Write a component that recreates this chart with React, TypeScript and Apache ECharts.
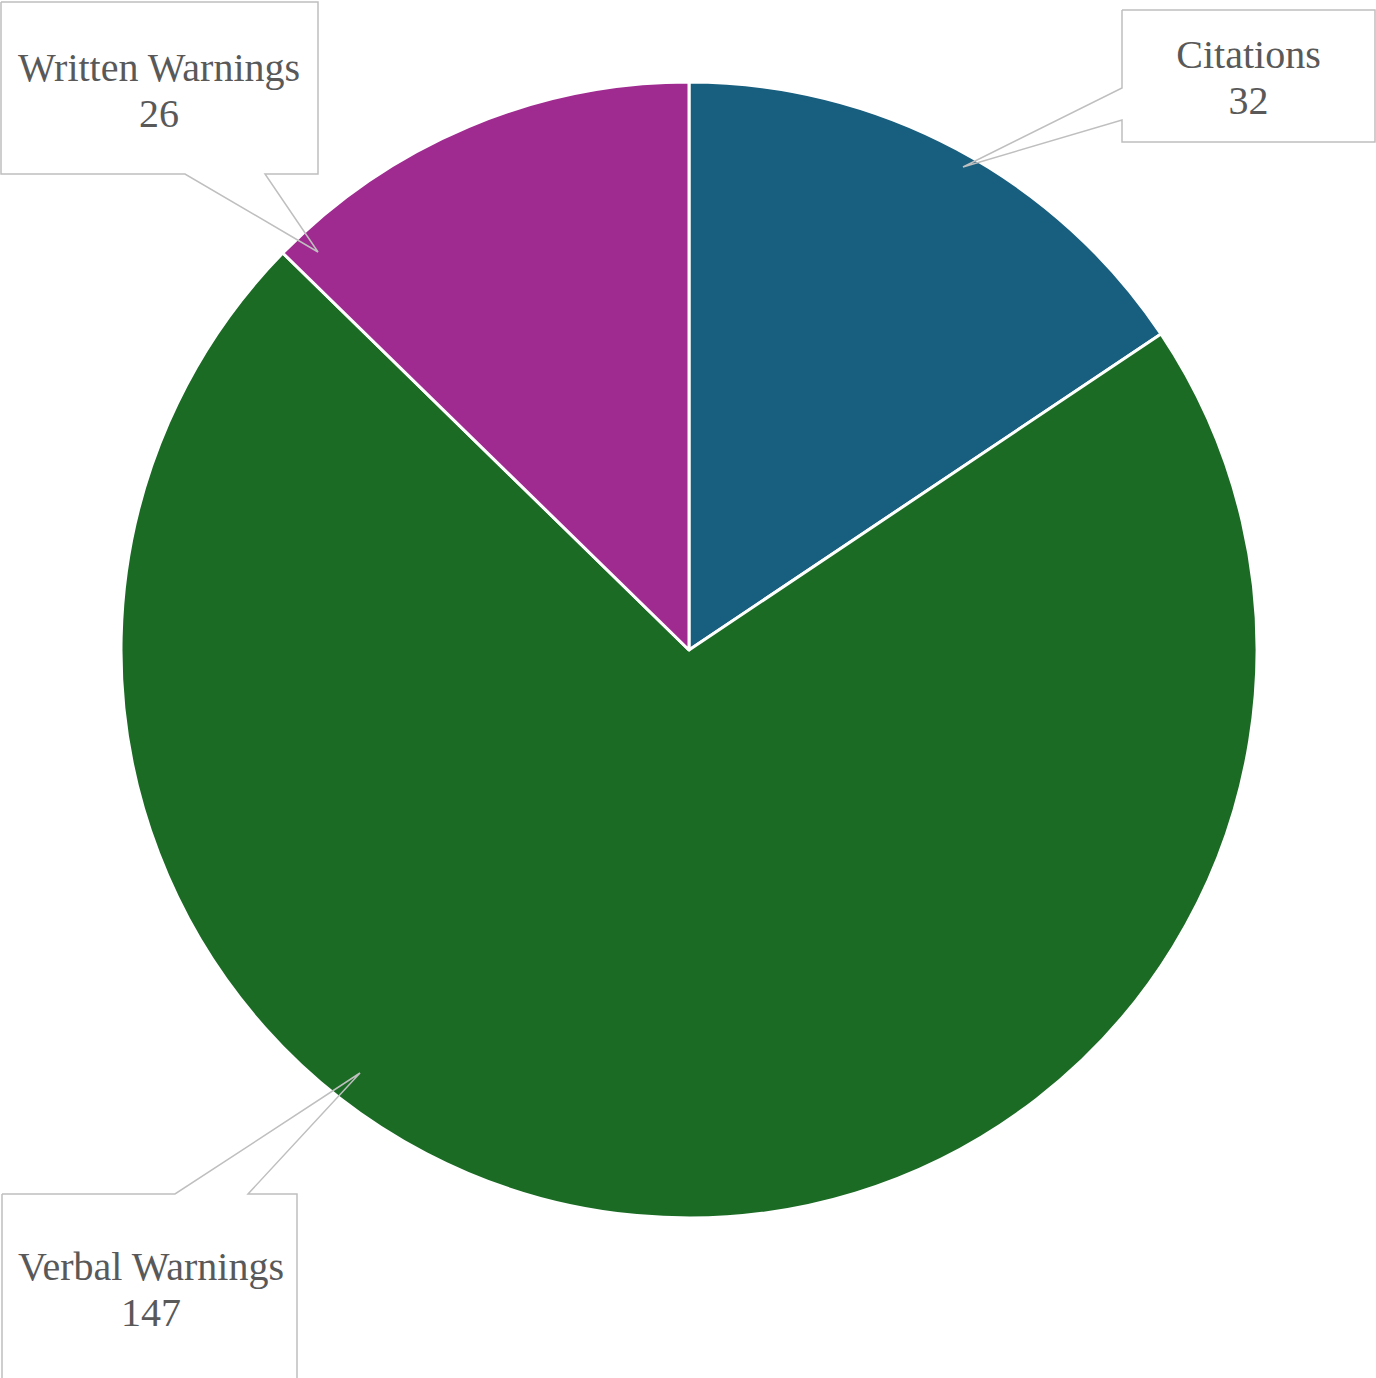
import React, { useEffect, useRef } from "react";
import * as echarts from "echarts";

const categories = ["Citations", "Verbal Warnings", "Written Warnings"];
const values = [32, 147, 26];
const colors = ["#175e7f", "#1b6b25", "#9f2b90"];

// label text centres (annotation layout)
const labelCenters = [
  [1248.5, 77.5],
  [151, 1289],
  [159, 90.5],
];

// callout outlines (box + pointer), annotation layout
const callouts = [
  [
    [1122, 10], [1375, 10], [1375, 142], [1122, 142], [1122, 120], [963, 167], [1122, 88], [1122, 10],
  ],
  [
    [2, 1194], [175, 1194], [360, 1073], [248, 1194], [297, 1194], [297, 1400], [2, 1400], [2, 1194],
  ],
  [
    [1, 2], [318, 2], [318, 174], [265, 174], [318, 252], [185, 174], [1, 174], [1, 2],
  ],
];

export default function App() {
  const ref = useRef<HTMLDivElement>(null);
  useEffect(() => {
    document.body.style.margin = "0";
    const chart = echarts.init(ref.current!, null, { renderer: "svg" });
    chart.setOption({
      animation: false,
      backgroundColor: "#ffffff",
      graphic: callouts.map((pts) => ({
        type: "polyline",
        z: 100,
        silent: true,
        shape: { points: pts },
        style: { stroke: "#bfbfbf", lineWidth: 1.5, fill: null },
      })),
      series: [
        {
          type: "pie",
          center: [689, 650],
          radius: 568,
          startAngle: 90,
          clockwise: true,
          avoidLabelOverlap: false,
          itemStyle: { borderColor: "#ffffff", borderWidth: 3 },
          label: {
            show: true,
            formatter: "{b}\n{c}",
            color: "#595959",
            fontFamily: "'Liberation Serif', 'Times New Roman', serif",
            fontSize: 40,
            lineHeight: 46,
            align: "center",
          },
          labelLine: { show: false },
          labelLayout: (params: any) => ({
            x: labelCenters[params.dataIndex][0],
            y: labelCenters[params.dataIndex][1],
            align: "center",
            verticalAlign: "middle",
          }),
          emphasis: { disabled: true },
          data: categories.map((name, i) => ({
            name,
            value: values[i],
            itemStyle: { color: colors[i] },
          })),
        },
      ],
    });
    return () => chart.dispose();
  }, []);
  return <div ref={ref} style={{ width: 1376, height: 1378 }} />;
}
